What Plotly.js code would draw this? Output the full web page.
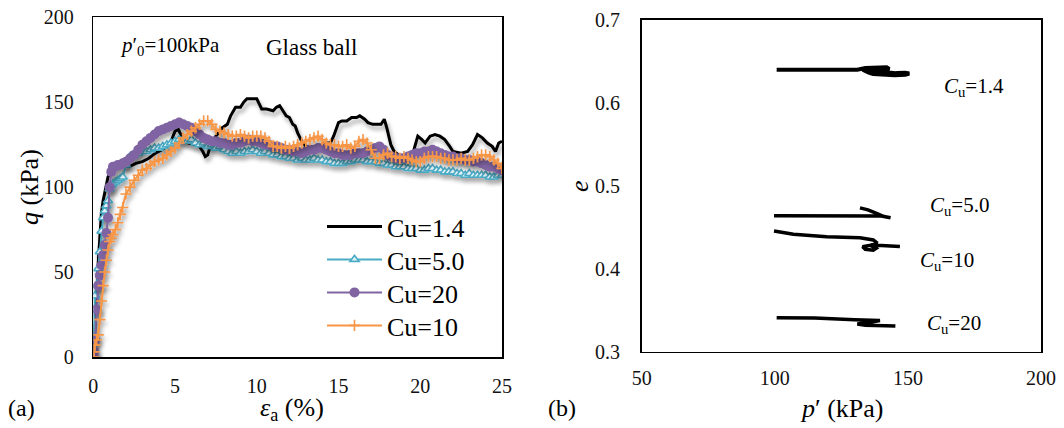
<!DOCTYPE html>
<html>
<head>
<meta charset="utf-8">
<script src="https://cdn.plot.ly/plotly-3.0.1.min.js"></script>
<style>
  html, body { margin: 0; padding: 0; background: #fff; }
  #chart { width: 1064px; height: 428px; }
  /* every label of this figure is set in a Times-like serif face */
  #chart text, #chart tspan { font-family: 'Liberation Serif', 'Times New Roman', serif !important; }
  /* soft drop shadow under the stress-strain curves */
  .subplot.xy .scatterlayer .trace { filter: url(#curveShadow); }
</style>
</head>
<body>
<svg width="0" height="0" style="position:absolute">
  <defs>
    <filter id="curveShadow" x="-10%" y="-10%" width="130%" height="140%">
      <feGaussianBlur in="SourceAlpha" stdDeviation="2"/>
      <feOffset dx="2" dy="4" result="blur"/>
      <feComponentTransfer><feFuncA type="linear" slope="0.35"/></feComponentTransfer>
      <feMerge><feMergeNode/><feMergeNode in="SourceGraphic"/></feMerge>
    </filter>
  </defs>
</svg>
<div id="chart"></div>
<script>
// ---- (a) deviator stress q vs axial strain, p'0 = 100 kPa, glass ball ----
const strainCu14 = [0, 0.1, 0.2, 0.3, 0.4, 0.5, 0.6, 0.75, 0.9, 1.1, 1.4, 1.8, 2.2, 2.6, 3.0, 3.4, 3.8, 4.2, 4.5, 4.8, 5.0, 5.2, 5.5, 5.8, 6.2, 6.5, 6.7, 6.85, 7.0, 7.15, 7.5, 7.9, 8.2, 8.4, 8.7, 9.0, 9.2, 9.4, 9.7, 10.0, 10.15, 10.3, 10.6, 11.0, 11.2, 11.4, 11.6, 11.8, 12.0, 12.2, 12.35, 12.5, 12.75, 13.0, 13.4, 13.8, 14.2, 14.5, 14.7, 15.0, 15.2, 15.5, 15.8, 16.1, 16.3, 16.6, 16.8, 17.1, 17.4, 17.6, 17.8, 17.95, 18.2, 18.4, 18.8, 19.2, 19.5, 19.7, 19.85, 20.1, 20.3, 20.6, 20.9, 21.2, 21.5, 21.8, 22.0, 22.5, 22.9, 23.2, 23.5, 23.8, 24.1, 24.4, 24.6, 24.8, 25.0];
const qCu14 = [0, 15, 33, 55, 73, 85, 92, 100, 106, 109, 112, 113, 112, 114, 115, 117, 120, 122, 124, 128, 133, 134, 128, 126, 125, 124, 121, 118, 119, 124, 130, 135, 137, 142, 147, 147, 150, 152, 152, 152, 149, 146, 146, 145, 147, 148, 145, 142, 141, 137, 136, 132, 127, 124, 122, 124, 126, 126, 130, 138, 139, 139, 141, 141, 142, 140, 138, 137, 137, 137, 140, 135, 125, 121, 118, 118, 118, 125, 130, 128, 126, 130, 131, 130, 128, 124, 121, 120, 121, 125, 131, 129, 126, 124, 121, 126, 127];

const strainGrid = [0, 0.05, 0.1, 0.2, 0.3, 0.4, 0.5, 0.6, 0.7, 0.8, 0.9, 1.0, 1.1, 1.2, 1.35, 1.5, 1.65, 1.8,
  2.0, 2.25, 2.5, 2.75, 3.0, 3.25, 3.5, 3.75, 4.0, 4.25, 4.5, 4.75, 5.0, 5.25, 5.5, 5.75, 6.0, 6.25, 6.5, 6.75,
  7.0, 7.25, 7.5, 7.75, 8.0, 8.25, 8.5, 8.75, 9.0, 9.25, 9.5, 9.75, 10.0, 10.25, 10.5, 10.75, 11.0, 11.25, 11.5, 11.75,
  12.0, 12.25, 12.5, 12.75, 13.0, 13.25, 13.5, 13.75, 14.0, 14.25, 14.5, 14.75, 15.0, 15.25, 15.5, 15.75, 16.0, 16.25,
  16.5, 16.75, 17.0, 17.25, 17.5, 17.75, 18.0, 18.25, 18.5, 18.75, 19.0, 19.25, 19.5, 19.75, 20.0, 20.25, 20.5, 20.75,
  21.0, 21.25, 21.5, 21.75, 22.0, 22.25, 22.5, 22.75, 23.0, 23.25, 23.5, 23.75, 24.0, 24.25, 24.5, 24.75, 25.0];

const qCu50 = [0, 28, 36, 42, 52, 62, 74, 82, 86, 89, 92, 99, 101, 102, 103, 104, 105, 106,
  113, 118, 119, 120, 121, 121, 122, 123, 123, 124, 125, 126, 127, 128, 128, 127, 128, 126, 125, 126,
  124, 125, 123, 124, 122, 121, 120, 121, 120, 121, 121, 122, 121, 120, 121, 120, 119, 119, 118, 118,
  117, 117, 116, 117, 116, 116, 117, 116, 116, 115, 115, 114, 114, 114, 115, 115, 116, 116,
  116, 115, 115, 115, 114, 114, 113, 113, 112, 112, 112, 111, 111, 111, 110, 110, 111, 111,
  110, 110, 109, 109, 109, 108, 108, 107, 108, 107, 107, 107, 107, 106, 106, 107, 107];

const qCu20 = [0, 3, 10, 28, 42, 48, 54, 60, 66, 73, 82, 100, 109, 112, 112, 113, 113, 114,
  115, 117, 119, 122, 125, 127, 129, 131, 133, 134, 135, 136, 137, 138, 137, 136, 135, 133, 131, 129,
  128, 127, 127, 126, 126, 125, 125, 126, 126, 127, 128, 127, 127, 126, 125, 125, 124, 124, 123, 122,
  122, 121, 121, 120, 121, 122, 122, 123, 123, 122, 121, 120, 120, 119, 119, 119, 120, 120,
  120, 121, 122, 123, 124, 122, 119, 118, 117, 117, 117, 118, 119, 120, 120, 121, 121, 122,
  121, 120, 119, 118, 118, 117, 117, 116, 116, 115, 115, 114, 113, 112, 112, 111, 110];

const qCu10 = [0, 3, 7, 10, 13, 22, 33, 42, 50, 57, 63, 68, 70, 72, 75, 79, 84, 88,
  96, 100, 104, 107, 110, 111, 113, 115, 116, 117, 119, 121, 123, 126, 129, 131, 133, 135, 137, 139,
  139, 137, 134, 133, 132, 131, 130, 130, 131, 130, 129, 130, 130, 130, 129, 127, 124, 124, 123, 124,
  123, 124, 125, 126, 127, 128, 129, 130, 128, 126, 125, 125, 124, 124, 125, 123, 124, 127,
  128, 126, 122, 117, 117, 119, 120, 118, 118, 117, 118, 117, 116, 115, 115, 117, 118, 118,
  118, 117, 117, 116, 116, 116, 117, 116, 116, 117, 118, 119, 119, 118, 116, 114, 111];

// ---- (b) void ratio e vs mean effective stress p' ----
const pCu14 = [100.7, 115, 125, 131, 134, 138, 142, 143, 140, 136, 133, 135, 139, 143, 146, 149, 150.5, 149, 145, 141, 137, 135, 138, 142, 146, 148];
const eCu14 = [0.640, 0.640, 0.640, 0.640, 0.642, 0.643, 0.643, 0.641, 0.639, 0.6385, 0.640, 0.637, 0.6355, 0.635, 0.636, 0.6365, 0.6355, 0.634, 0.6335, 0.634, 0.635, 0.6365, 0.638, 0.637, 0.6355, 0.635];
const pCu50 = [99.7, 115, 130, 140, 143.5, 141, 138, 135, 132];
const eCu50 = [0.464, 0.464, 0.464, 0.4635, 0.4615, 0.463, 0.467, 0.471, 0.4735];
const pCu10 = [99.7, 107, 119.5, 132, 137, 138.5, 136, 133, 134, 137, 138, 136, 140, 143, 147];
const eCu10 = [0.4456, 0.4416, 0.4387, 0.4375, 0.4347, 0.431, 0.4285, 0.4265, 0.4235, 0.4225, 0.4245, 0.428, 0.428, 0.4275, 0.427];
const pCu20 = [100.7, 115, 130, 139.5, 136, 131, 134, 138, 142, 145.3];
const eCu20 = [0.341, 0.3405, 0.3385, 0.3375, 0.3355, 0.3335, 0.332, 0.3315, 0.331, 0.331];

const seriesNames = ['Cu=1.4', 'Cu=5.0', 'Cu=20', 'Cu=10'];
const legendRowY = [228, 261, 294, 327];   // vertical centre of each legend row, px from top
const curveLabels = ['<i>C</i><sub>u</sub>=1.4', '<i>C</i><sub>u</sub>=5.0', '<i>C</i><sub>u</sub>=10', '<i>C</i><sub>u</sub>=20'];
const curveLabelP = [162.8, 157.5, 153.8, 156.4];
const curveLabelE = [0.619, 0.4757, 0.4094, 0.3334];
const strainTicks = [0, 5, 10, 15, 20, 25];
const qTicks = [0, 50, 100, 150, 200];
const pTicks = [50, 100, 150, 200];
const eTicks = [0.3, 0.4, 0.5, 0.6, 0.7];

const serif = 'Liberation Serif';
const COL = { black: '#000000', cyan: '#4bacc6', purple: '#8064a2', orange: '#f79646' };
const legendIds = ['legend', 'legend2', 'legend3', 'legend4'];

const traces = [
  { x: strainCu14, y: qCu14, name: seriesNames[0], legend: legendIds[0], mode: 'lines', xaxis: 'x', yaxis: 'y',
    line: { color: COL.black, width: 3 } },
  { x: strainGrid, y: qCu50, name: seriesNames[1], legend: legendIds[1], mode: 'lines+markers', xaxis: 'x', yaxis: 'y',
    line: { color: COL.cyan, width: 2 },
    marker: { symbol: 'triangle-up', size: 8, color: '#e3f3f8', line: { color: COL.cyan, width: 1.6 } } },
  { x: strainGrid, y: qCu20, name: seriesNames[2], legend: legendIds[2], mode: 'lines+markers', xaxis: 'x', yaxis: 'y',
    line: { color: COL.purple, width: 2 },
    marker: { symbol: 'circle', size: 10, color: COL.purple } },
  { x: strainGrid, y: qCu10, name: seriesNames[3], legend: legendIds[3], mode: 'lines+markers', xaxis: 'x', yaxis: 'y',
    line: { color: COL.orange, width: 2 },
    marker: { symbol: 'cross-thin', size: 8, color: COL.orange, line: { color: COL.orange, width: 1.6 } } },
  { x: pCu14, y: eCu14, mode: 'lines', xaxis: 'x2', yaxis: 'y2', showlegend: false,
    line: { color: COL.black, width: 4 } },
  { x: pCu50, y: eCu50, mode: 'lines', xaxis: 'x2', yaxis: 'y2', showlegend: false,
    line: { color: COL.black, width: 3.5 } },
  { x: pCu10, y: eCu10, mode: 'lines', xaxis: 'x2', yaxis: 'y2', showlegend: false,
    line: { color: COL.black, width: 3.5 } },
  { x: pCu20, y: eCu20, mode: 'lines', xaxis: 'x2', yaxis: 'y2', showlegend: false,
    line: { color: COL.black, width: 3.5 } }
];

// labelled axes: frame + tick labels; their own ticks are transparent and only set the label gap
function labelAxis(extra) {
  return Object.assign({
    showline: true, mirror: true, linecolor: '#000', linewidth: 1.6,
    ticks: 'outside', tickcolor: 'rgba(0,0,0,0)', tickwidth: 1,
    showgrid: false, zeroline: false,
    tickfont: { family: serif, size: 20, color: '#111' }
  }, extra);
}
// overlaid twins that draw the short inward tick marks
function tickAxis(extra) {
  return Object.assign({
    showline: false, showticklabels: false, showgrid: false, zeroline: false,
    ticks: 'inside', ticklen: 5, tickwidth: 1.4, tickcolor: '#000'
  }, extra);
}

const annotations = [
  { xref: 'x', yref: 'y', x: 1.5, y: 183, xanchor: 'left', yanchor: 'middle', showarrow: false,
    text: '<i>p</i>′<sub>0</sub>=100kPa', font: { family: serif, size: 21, color: '#000' } },
  { xref: 'x', yref: 'y', x: 10.45, y: 182, xanchor: 'left', yanchor: 'middle', showarrow: false,
    text: 'Glass ball', font: { family: serif, size: 23, color: '#000' } },
  { xref: 'paper', yref: 'paper', x: 6 / 1064, y: 1 - 408 / 428, xanchor: 'left', yanchor: 'middle', showarrow: false,
    text: '(a)', font: { family: serif, size: 24, color: '#000' } },
  { xref: 'paper', yref: 'paper', x: 546 / 1064, y: 1 - 408 / 428, xanchor: 'left', yanchor: 'middle', showarrow: false,
    text: '(b)', font: { family: serif, size: 24, color: '#000' } },
  // axis titles
  { xref: 'paper', yref: 'paper', x: 292 / 1064, y: 1 - 409 / 428, xanchor: 'center', yanchor: 'middle', showarrow: false,
    text: '<i>ε</i><sub>a</sub> (%)', font: { family: serif, size: 26, color: '#000' } },
  { xref: 'paper', yref: 'paper', x: 29 / 1064, y: 1 - 187 / 428, xanchor: 'center', yanchor: 'middle', showarrow: false,
    textangle: -90, text: '<i>q</i> (kPa)', font: { family: serif, size: 26, color: '#000' } },
  { xref: 'paper', yref: 'paper', x: 842 / 1064, y: 1 - 408 / 428, xanchor: 'center', yanchor: 'middle', showarrow: false,
    text: '<i>p</i>′ (kPa)', font: { family: serif, size: 26, color: '#000' } },
  { xref: 'paper', yref: 'paper', x: 579 / 1064, y: 1 - 186 / 428, xanchor: 'center', yanchor: 'middle', showarrow: false,
    textangle: -90, text: '<i>e</i>', font: { family: serif, size: 26, color: '#000' } }
];
curveLabels.forEach((t, i) => annotations.push({
  xref: 'x2', yref: 'y2', x: curveLabelP[i], y: curveLabelE[i], xanchor: 'left', yanchor: 'middle',
  showarrow: false, text: t, font: { family: serif, size: 21, color: '#000' }
}));

const layout = {
  width: 1064, height: 428,
  margin: { l: 0, r: 0, t: 0, b: 0 },
  paper_bgcolor: '#fff', plot_bgcolor: '#fff',
  font: { family: serif, size: 20, color: '#000' },
  showlegend: true,
  xaxis: labelAxis({ domain: [93.3 / 1064, 502 / 1064], range: [0, 25], tickvals: strainTicks, anchor: 'y', ticklen: 10 }),
  yaxis: labelAxis({ domain: [1 - 357 / 428, 1 - 17.3 / 428], range: [0, 200], tickvals: qTicks, anchor: 'x', ticklen: 14 }),
  xaxis2: labelAxis({ domain: [641.7 / 1064, 1041 / 1064], range: [50, 200], tickvals: pTicks, anchor: 'y2', ticklen: 8 }),
  yaxis2: labelAxis({ domain: [1 - 351.7 / 428, 1 - 20 / 428], range: [0.3, 0.7], tickvals: eTicks,
    tickformat: '.1f', anchor: 'x2', ticklen: 16 }),
  xaxis3: tickAxis({ overlaying: 'x', anchor: 'y', range: [0, 25], tickvals: strainTicks }),
  yaxis3: tickAxis({ overlaying: 'y', anchor: 'x', range: [0, 200], tickvals: qTicks }),
  xaxis4: tickAxis({ overlaying: 'x2', anchor: 'y2', range: [50, 200], tickvals: pTicks }),
  yaxis4: tickAxis({ overlaying: 'y2', anchor: 'x2', range: [0.3, 0.7], tickvals: eTicks }),
  annotations: annotations
};
legendIds.forEach((id, i) => {
  layout[id] = {
    x: 322 / 1064, y: 1 - (legendRowY[i] - 25) / 428, xanchor: 'left', yanchor: 'top',
    bgcolor: 'rgba(0,0,0,0)', borderwidth: 0, itemwidth: 55,
    font: { family: serif, size: 26, color: '#000' }
  };
});

Plotly.newPlot('chart', traces, layout, { displayModeBar: false, staticPlot: true });
</script>
</body>
</html>
